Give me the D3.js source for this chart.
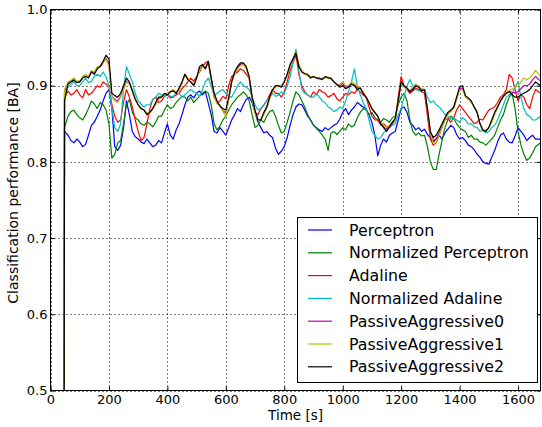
<!DOCTYPE html>
<html><head><meta charset="utf-8">
<script src="https://cdn.jsdelivr.net/npm/d3@7"></script>
<style>
body{margin:0;background:#fff;}
text{font-family:"DejaVu Sans",sans-serif;fill:#000;}
</style></head>
<body><svg id="c" width="542" height="427"></svg>
<script>
// sample times [s]: initial flat part, jump, then every 10 s
const times = [0,47,48].concat(d3.range(60,1661,10)).concat([1677]);

const perceptron = [0.5,0.5,0.84,
.835,.828,.825,.83,.826,.82,.823,.835,.848,.852,
.86,.868,.88,.89,.895,.87,.82,.815,.822,.845,
.88,.862,.84,.833,.83,.826,.824,.83,.825,.82,
.822,.828,.825,.838,.85,.835,.83,.842,.85,.862,
.875,.885,.888,.884,.89,.893,.888,.892,.877,.862,
.84,.838,.845,.84,.835,.845,.855,.862,.87,.866,
.875,.882,.885,.878,.865,.852,.845,.838,.84,.835,
.832,.818,.81,.814,.82,.832,.848,.862,.872,.876,
.875,.868,.86,.855,.848,.845,.842,.84,.845,.842,
.845,.848,.85,.856,.865,.87,.862,.868,.872,.878,
.875,.872,.87,.862,.852,.835,.808,.822,.83,.826,
.835,.838,.84,.855,.87,.872,.865,.852,.848,.842,
.845,.84,.843,.836,.832,.826,.83,.835,.83,.838,
.843,.848,.845,.836,.83,.832,.828,.822,.82,.816,
.81,.806,.8,.798,.797,.806,.815,.826,.835,.838,
.83,.826,.825,.834,.845,.84,.835,.828,.832,.835,
.83,.83];
const normPerceptron = [0.5,0.5,0.845,
.86,.866,.868,.862,.858,.855,.862,.87,.88,.876,
.87,.878,.875,.868,.85,.805,.81,.825,.828,.85,
.875,.882,.865,.858,.855,.85,.848,.852,.85,.846,
.852,.86,.86,.868,.875,.87,.872,.878,.882,.886,
.885,.88,.885,.878,.882,.886,.89,.893,.89,.875,
.85,.842,.847,.855,.86,.868,.875,.88,.885,.888,
.892,.888,.88,.862,.845,.848,.855,.852,.86,.866,
.868,.86,.848,.838,.84,.852,.865,.88,.892,.888,
.88,.872,.862,.855,.848,.844,.84,.835,.83,.815,
.838,.84,.836,.84,.845,.842,.85,.846,.848,.858,
.865,.87,.868,.862,.865,.858,.855,.852,.857,.855,
.852,.858,.86,.875,.885,.89,.88,.855,.84,.835,
.838,.834,.835,.82,.8,.79,.79,.81,.828,.845,
.855,.86,.857,.85,.845,.842,.84,.832,.835,.83,
.83,.826,.825,.822,.826,.83,.835,.845,.855,.862,
.875,.885,.89,.87,.84,.822,.81,.802,.805,.812,
.82,.825];
const adaline = [0.5,0.5,0.885,
.893,.888,.89,.895,.888,.884,.895,.888,.89,.895,
.9,.898,.905,.902,.9,.875,.86,.852,.855,.878,
.895,.885,.872,.855,.84,.828,.832,.85,.87,.882,
.885,.878,.88,.886,.888,.884,.885,.888,.89,.896,
.9,.905,.91,.906,.912,.918,.925,.93,.932,.91,
.885,.878,.88,.886,.883,.9,.912,.915,.918,.922,
.92,.915,.91,.885,.865,.862,.87,.875,.88,.888,
.895,.89,.89,.885,.892,.905,.92,.93,.94,.915,
.9,.892,.888,.885,.892,.888,.895,.892,.89,.885,
.887,.89,.883,.88,.885,.89,.888,.892,.89,.895,
.892,.888,.885,.872,.86,.855,.855,.848,.85,.846,
.845,.85,.855,.885,.912,.9,.895,.89,.893,.897,
.895,.892,.89,.86,.83,.822,.825,.835,.845,.855,
.857,.852,.858,.868,.875,.87,.865,.86,.855,.85,
.852,.856,.855,.862,.868,.87,.872,.878,.885,.888,
.895,.915,.91,.895,.88,.888,.885,.875,.87,.885,
.895,.89];
const normAdaline = [0.5,0.5,0.89,
.898,.902,.905,.9,.9,.905,.91,.904,.906,.912,
.915,.912,.918,.912,.9,.87,.845,.84,.85,.895,
.925,.915,.905,.89,.88,.876,.872,.875,.875,.882,
.885,.89,.888,.886,.89,.886,.886,.89,.89,.885,
.888,.892,.895,.892,.89,.886,.895,.905,.91,.9,
.887,.89,.893,.895,.89,.886,.885,.892,.9,.905,
.9,.898,.895,.885,.875,.868,.87,.874,.88,.885,
.89,.886,.888,.892,.89,.9,.912,.93,.948,.92,
.895,.89,.888,.885,.885,.89,.885,.88,.878,.872,
.87,.866,.868,.872,.87,.88,.892,.905,.922,.9,
.888,.878,.87,.855,.84,.835,.83,.832,.838,.842,
.845,.848,.85,.862,.87,.885,.9,.908,.9,.895,
.893,.896,.895,.885,.878,.88,.875,.872,.868,.862,
.86,.856,.858,.855,.852,.858,.855,.85,.85,.846,
.845,.84,.842,.838,.84,.845,.848,.855,.865,.875,
.885,.888,.89,.898,.905,.885,.87,.862,.86,.855,
.855,.86];
const passiveAggressive0 = [0.5,0.5,0.893,
.904,.906,.909,.905,.905,.911,.914,.911,.919,.917,
.924,.925,.93,.936,.928,.886,.882,.88,.886,.896,
.906,.903,.894,.883,.875,.87,.868,.863,.865,.87,
.876,.883,.885,.889,.889,.892,.894,.891,.895,.904,
.915,.909,.905,.901,.91,.922,.926,.923,.931,.909,
.889,.878,.874,.868,.864,.883,.905,.916,.923,.928,
.929,.923,.911,.883,.866,.855,.855,.863,.871,.883,
.894,.899,.9,.899,.905,.914,.926,.935,.944,.926,
.919,.915,.914,.911,.912,.91,.909,.909,.911,.911,
.909,.905,.901,.9,.903,.898,.899,.903,.901,.897,
.897,.891,.885,.878,.87,.865,.86,.851,.846,.843,
.847,.852,.856,.879,.905,.899,.896,.893,.896,.901,
.899,.894,.895,.869,.839,.828,.83,.838,.847,.856,
.863,.867,.871,.883,.896,.897,.886,.883,.879,.872,
.865,.85,.841,.841,.845,.853,.863,.872,.88,.886,
.89,.893,.891,.891,.892,.896,.9,.9,.902,.908,
.912,.906];
const passiveAggressive1 = [0.5,0.5,0.895,
.905,.907,.91,.906,.906,.912,.915,.912,.92,.918,
.925,.926,.93,.935,.925,.885,.88,.878,.885,.895,
.905,.902,.895,.884,.875,.87,.868,.864,.865,.87,
.875,.882,.885,.888,.89,.893,.895,.892,.893,.903,
.915,.91,.905,.902,.91,.92,.925,.924,.93,.908,
.888,.876,.875,.866,.86,.882,.905,.915,.922,.926,
.928,.922,.91,.882,.865,.855,.855,.862,.87,.882,
.893,.898,.9,.9,.905,.913,.925,.935,.945,.928,
.92,.915,.913,.912,.912,.91,.908,.91,.91,.912,
.908,.905,.9,.902,.905,.9,.9,.905,.903,.9,
.898,.892,.885,.878,.87,.865,.86,.852,.848,.845,
.848,.852,.855,.878,.905,.898,.895,.894,.898,.902,
.9,.896,.895,.868,.838,.825,.825,.835,.845,.855,
.862,.866,.87,.882,.895,.895,.885,.882,.878,.872,
.865,.85,.84,.842,.845,.852,.862,.872,.88,.886,
.89,.894,.895,.898,.9,.905,.91,.908,.91,.915,
.92,.912];
const passiveAggressive2 = [0.5,0.5,0.88,
.902,.905,.907,.904,.905,.91,.912,.91,.918,.915,
.922,.925,.932,.94,.935,.89,.887,.885,.89,.9,
.91,.905,.893,.882,.875,.87,.868,.862,.865,.87,
.878,.885,.885,.89,.888,.892,.893,.89,.897,.905,
.915,.908,.905,.9,.91,.925,.928,.922,.932,.91,
.89,.88,.873,.87,.868,.885,.905,.918,.925,.93,
.93,.925,.912,.885,.868,.855,.855,.865,.872,.885,
.895,.9,.9,.898,.905,.915,.928,.935,.943,.925,
.918,.916,.915,.91,.912,.91,.91,.908,.912,.91,
.91,.905,.902,.898,.9,.896,.898,.902,.9,.895,
.897,.89,.885,.878,.87,.865,.86,.85,.845,.84,
.846,.852,.857,.88,.905,.9,.897,.892,.895,.9,
.898,.893,.895,.87,.84,.832,.835,.842,.85,.858,
.865,.868,.872,.885,.898,.9,.887,.884,.88,.872,
.865,.85,.842,.84,.845,.855,.865,.872,.88,.886,
.89,.892,.888,.885,.885,.888,.89,.892,.895,.9,
.905,.9];

const seriesNames = ["Perceptron","Normalized Perceptron","Adaline","Normalized Adaline","PassiveAggressive0","PassiveAggressive1","PassiveAggressive2"];
const seriesColors = ["#0000ff","#008000","#ff0000","#00bfbf","#bf00bf","#bfbf00","#000000"];
const seriesData = [perceptron,normPerceptron,adaline,normAdaline,passiveAggressive0,passiveAggressive1,passiveAggressive2];
const xTicks = [0,200,400,600,800,1000,1200,1400,1600];
const yTicks = [0.5,0.6,0.7,0.8,0.9,1.0];

seriesData.forEach((s,k)=>{ if(s.length!==times.length) console.error("length mismatch", seriesNames[k], s.length, times.length); });

const svg = d3.select("#c");
const L=50.5, T=9.5, R=540.5, B=390.5;
const x = d3.scaleLinear().domain([0,1677]).range([L,R]);
const y = d3.scaleLinear().domain([0.5,1.0]).range([B,T]);

// grid
const g = svg.append("g");
g.selectAll(".gx").data(xTicks).enter().append("line")
 .attr("x1",d=>Math.round(x(d))+0.5).attr("x2",d=>Math.round(x(d))+0.5).attr("y1",T).attr("y2",B)
 .attr("stroke","#000").attr("stroke-width",1).attr("stroke-dasharray","1,3");
g.selectAll(".gy").data(yTicks).enter().append("line")
 .attr("y1",d=>Math.round(y(d))+0.5).attr("y2",d=>Math.round(y(d))+0.5).attr("x1",L).attr("x2",R)
 .attr("stroke","#000").attr("stroke-width",1).attr("stroke-dasharray","1,3");

// lines
svg.append("clipPath").attr("id","cp").append("rect").attr("x",L).attr("y",T-3).attr("width",R-L).attr("height",B-T+3);
const line = d3.line().x((d,i)=>x(times[i])).y(d=>y(d));
seriesData.forEach((s,k)=>{
  svg.append("path").attr("d",line(s)).attr("fill","none").attr("stroke",seriesColors[k])
   .attr("stroke-width",1.2).attr("stroke-linejoin","round").attr("clip-path","url(#cp)");
});

// frame
svg.append("rect").attr("x",L).attr("y",T).attr("width",R-L).attr("height",B-T).attr("fill","none").attr("stroke","#000").attr("stroke-width",1);

// axes with inward ticks
const xb = svg.append("g").attr("transform",`translate(0,${B})`).call(d3.axisBottom(x).tickValues(xTicks).tickSize(-4).tickPadding(4).tickFormat(d3.format("d")));
const xt = svg.append("g").attr("transform",`translate(0,${T})`).call(d3.axisTop(x).tickValues(xTicks).tickSize(-4).tickFormat(""));
const yl = svg.append("g").attr("transform",`translate(${L},0)`).call(d3.axisLeft(y).tickValues(yTicks).tickSize(-4).tickPadding(3).tickFormat(d3.format(".1f")));
const yr = svg.append("g").attr("transform",`translate(${R},0)`).call(d3.axisRight(y).tickValues(yTicks).tickSize(-4).tickFormat(""));
[xb,xt,yl,yr].forEach(a=>{a.select(".domain").remove(); a.selectAll("line").attr("stroke","#000"); a.selectAll("text").style("font-size","13px").style("font-family","DejaVu Sans").attr("fill","#000");});

svg.append("text").attr("x",(L+R)/2).attr("y",420).attr("text-anchor","middle").style("font-size","13.5px").text("Time [s]");
svg.append("text").attr("transform",`translate(18,193) rotate(-90)`).attr("text-anchor","middle").style("font-size","14px").text("Classification performance [BA]");

// legend
const lg = svg.append("g");
lg.append("rect").attr("x",297.5).attr("y",217.5).attr("width",240).attr("height",165).attr("fill","#fff").attr("stroke","#000").attr("stroke-width",1);
seriesNames.forEach((n,i)=>{
  const yy = 230 + i*22.8;
  lg.append("line").attr("x1",308).attr("x2",332).attr("y1",yy).attr("y2",yy).attr("stroke",seriesColors[i]).attr("stroke-width",1.2);
  lg.append("text").attr("x",349).attr("y",yy+5.5).style("font-size","15.8px").text(n);
});
</script></body></html>
